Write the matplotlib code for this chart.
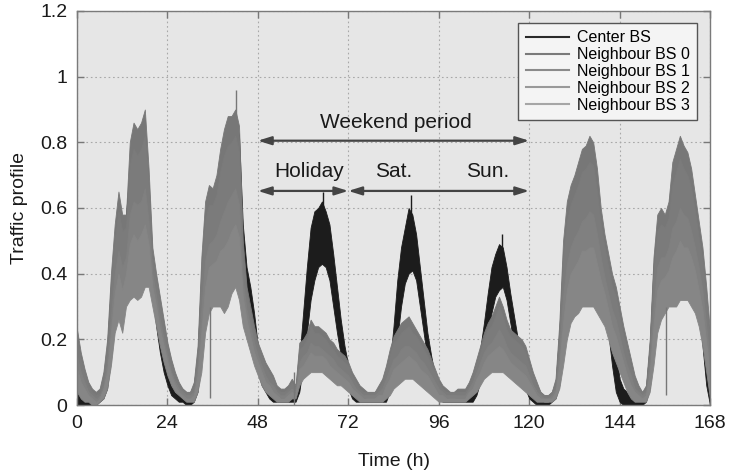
import numpy as np
import matplotlib.pyplot as plt
from matplotlib.lines import Line2D

plt.rcParams['font.family'] = ['Liberation Sans', 'DejaVu Sans']

# hourly samples over one week (0..168 h); each series drawn as a band lo..hi
hours = np.arange(0, 169)

center_hi = [0.06,0.05,0.04,0.03,0.03,0.03,0.04,0.08,0.17,0.36,0.50,0.58,0.55,0.58,0.72,0.78,0.80,0.80,0.82,0.66,0.44,0.34,0.24,0.16,
             0.10,0.07,0.05,0.04,0.03,0.03,0.03,0.06,0.15,0.40,0.58,0.62,0.62,0.66,0.74,0.82,0.85,0.86,0.88,0.82,0.55,0.42,0.36,0.28,
             0.18,0.13,0.09,0.06,0.04,0.03,0.03,0.03,0.03,0.04,0.04,0.14,0.28,0.42,0.54,0.59,0.60,0.62,0.59,0.55,0.46,0.36,0.26,0.18,
             0.12,0.07,0.04,0.03,0.03,0.03,0.03,0.03,0.03,0.03,0.05,0.12,0.24,0.38,0.48,0.54,0.60,0.58,0.52,0.42,0.32,0.22,0.15,0.09,
             0.05,0.03,0.03,0.03,0.03,0.03,0.03,0.03,0.03,0.05,0.10,0.17,0.25,0.34,0.42,0.46,0.49,0.48,0.42,0.34,0.27,0.20,0.14,0.09,
             0.05,0.03,0.03,0.02,0.02,0.02,0.03,0.06,0.22,0.45,0.58,0.63,0.66,0.70,0.74,0.76,0.78,0.75,0.66,0.55,0.46,0.38,0.28,0.16,
             0.08,0.05,0.04,0.03,0.03,0.03,0.03,0.05,0.18,0.42,0.55,0.57,0.56,0.60,0.70,0.75,0.78,0.76,0.74,0.68,0.58,0.48,0.36,0.22,
             0.08]
center_lo = [0.00,0.00,0.00,0.00,0.00,0.00,0.01,0.02,0.05,0.14,0.25,0.32,0.35,0.40,0.48,0.55,0.58,0.60,0.62,0.50,0.34,0.24,0.16,0.10,
             0.06,0.03,0.02,0.01,0.01,0.00,0.00,0.01,0.04,0.14,0.30,0.38,0.40,0.45,0.52,0.64,0.70,0.70,0.68,0.55,0.38,0.32,0.26,0.18,
             0.10,0.06,0.04,0.02,0.01,0.01,0.01,0.01,0.01,0.01,0.01,0.04,0.12,0.22,0.32,0.38,0.42,0.43,0.42,0.38,0.30,0.22,0.15,0.09,
             0.05,0.02,0.01,0.01,0.01,0.01,0.01,0.01,0.01,0.01,0.01,0.04,0.10,0.20,0.30,0.37,0.40,0.41,0.38,0.30,0.22,0.14,0.08,0.04,
             0.02,0.01,0.01,0.01,0.01,0.01,0.01,0.01,0.01,0.01,0.03,0.07,0.12,0.20,0.28,0.33,0.35,0.36,0.32,0.25,0.18,0.12,0.08,0.05,
             0.02,0.01,0.00,0.00,0.00,0.00,0.01,0.02,0.06,0.18,0.30,0.38,0.42,0.46,0.50,0.54,0.56,0.52,0.45,0.38,0.30,0.22,0.12,0.04,
             0.01,0.00,0.00,0.00,0.00,0.00,0.00,0.01,0.05,0.18,0.32,0.38,0.40,0.44,0.50,0.56,0.58,0.56,0.54,0.48,0.40,0.30,0.18,0.06,
             0.00]

n0_hi = [0.23,0.16,0.11,0.07,0.05,0.04,0.05,0.10,0.20,0.40,0.55,0.65,0.58,0.58,0.80,0.86,0.84,0.86,0.90,0.72,0.48,0.40,0.33,0.26,
         0.19,0.14,0.10,0.07,0.05,0.04,0.04,0.07,0.18,0.45,0.62,0.67,0.66,0.70,0.78,0.84,0.88,0.88,0.90,0.85,0.50,0.36,0.30,0.24,
         0.19,0.16,0.13,0.11,0.09,0.06,0.05,0.05,0.06,0.08,0.06,0.19,0.20,0.22,0.26,0.24,0.24,0.23,0.22,0.20,0.19,0.17,0.16,0.15,
         0.13,0.10,0.08,0.06,0.05,0.04,0.04,0.04,0.06,0.08,0.12,0.17,0.21,0.23,0.25,0.26,0.27,0.25,0.23,0.21,0.19,0.17,0.14,0.11,
         0.08,0.06,0.05,0.04,0.04,0.05,0.05,0.05,0.07,0.10,0.14,0.18,0.22,0.25,0.27,0.30,0.33,0.30,0.26,0.23,0.22,0.21,0.20,0.18,
         0.14,0.10,0.07,0.04,0.03,0.03,0.04,0.08,0.25,0.50,0.62,0.67,0.70,0.74,0.78,0.79,0.82,0.80,0.72,0.60,0.52,0.46,0.40,0.36,
         0.30,0.24,0.19,0.14,0.09,0.06,0.04,0.06,0.20,0.45,0.58,0.60,0.58,0.62,0.74,0.78,0.82,0.79,0.77,0.72,0.64,0.56,0.48,0.36,
         0.22]
n0_lo = [0.16,0.11,0.08,0.05,0.03,0.03,0.04,0.07,0.15,0.30,0.43,0.51,0.45,0.48,0.63,0.67,0.66,0.67,0.71,0.59,0.42,0.34,0.28,0.21,
         0.16,0.11,0.08,0.06,0.04,0.03,0.03,0.05,0.13,0.33,0.48,0.53,0.53,0.56,0.61,0.64,0.68,0.69,0.71,0.66,0.41,0.30,0.25,0.20,
         0.16,0.13,0.10,0.08,0.07,0.04,0.04,0.04,0.04,0.06,0.05,0.14,0.16,0.17,0.20,0.19,0.19,0.18,0.17,0.16,0.15,0.13,0.12,0.12,
         0.10,0.08,0.06,0.04,0.04,0.03,0.03,0.03,0.04,0.06,0.09,0.12,0.15,0.17,0.19,0.20,0.20,0.19,0.17,0.16,0.14,0.12,0.10,0.08,
         0.06,0.04,0.04,0.03,0.03,0.04,0.04,0.04,0.05,0.08,0.11,0.14,0.17,0.19,0.21,0.23,0.25,0.23,0.20,0.18,0.17,0.16,0.15,0.13,
         0.10,0.07,0.05,0.03,0.02,0.02,0.03,0.06,0.18,0.37,0.47,0.52,0.55,0.58,0.61,0.62,0.64,0.63,0.57,0.48,0.42,0.37,0.32,0.28,
         0.23,0.18,0.14,0.10,0.06,0.04,0.03,0.04,0.14,0.33,0.45,0.48,0.48,0.51,0.59,0.61,0.65,0.63,0.61,0.57,0.51,0.45,0.38,0.27,
         0.15]

n1_hi = [0.20,0.14,0.10,0.06,0.04,0.03,0.04,0.09,0.18,0.36,0.50,0.59,0.53,0.54,0.73,0.78,0.76,0.78,0.82,0.67,0.45,0.38,0.31,0.24,
         0.18,0.13,0.09,0.06,0.05,0.04,0.04,0.06,0.16,0.40,0.56,0.61,0.61,0.64,0.71,0.76,0.79,0.80,0.82,0.77,0.46,0.34,0.28,0.22,
         0.18,0.15,0.12,0.10,0.08,0.05,0.04,0.04,0.05,0.07,0.05,0.17,0.18,0.20,0.24,0.22,0.22,0.21,0.20,0.18,0.17,0.15,0.14,0.13,
         0.12,0.09,0.07,0.05,0.04,0.04,0.04,0.04,0.05,0.07,0.11,0.15,0.19,0.20,0.22,0.23,0.24,0.22,0.21,0.19,0.17,0.15,0.12,0.10,
         0.07,0.05,0.04,0.04,0.04,0.04,0.04,0.04,0.06,0.09,0.13,0.16,0.20,0.23,0.24,0.27,0.30,0.27,0.23,0.21,0.20,0.19,0.18,0.16,
         0.12,0.09,0.06,0.04,0.03,0.03,0.04,0.07,0.22,0.44,0.56,0.61,0.64,0.67,0.71,0.72,0.74,0.73,0.65,0.55,0.48,0.42,0.36,0.33,
         0.27,0.21,0.17,0.12,0.08,0.05,0.04,0.05,0.18,0.40,0.53,0.55,0.54,0.57,0.67,0.71,0.75,0.72,0.70,0.66,0.59,0.51,0.44,0.32,
         0.19]
n1_lo = [0.13,0.08,0.06,0.04,0.02,0.02,0.03,0.06,0.12,0.25,0.37,0.44,0.38,0.43,0.54,0.57,0.55,0.57,0.60,0.52,0.38,0.31,0.25,0.19,
         0.14,0.10,0.07,0.05,0.03,0.02,0.02,0.04,0.10,0.26,0.40,0.46,0.46,0.48,0.52,0.53,0.56,0.58,0.60,0.56,0.36,0.27,0.22,0.17,
         0.14,0.11,0.08,0.07,0.05,0.03,0.03,0.03,0.03,0.05,0.04,0.12,0.13,0.15,0.17,0.16,0.16,0.16,0.15,0.13,0.12,0.11,0.10,0.09,
         0.08,0.06,0.05,0.03,0.03,0.02,0.02,0.02,0.03,0.04,0.07,0.09,0.12,0.14,0.15,0.16,0.17,0.16,0.14,0.13,0.11,0.10,0.08,0.06,
         0.04,0.03,0.03,0.02,0.02,0.03,0.03,0.03,0.04,0.06,0.09,0.11,0.14,0.16,0.18,0.19,0.20,0.19,0.17,0.15,0.14,0.13,0.12,0.10,
         0.08,0.06,0.04,0.02,0.02,0.02,0.02,0.05,0.14,0.29,0.39,0.44,0.46,0.49,0.52,0.52,0.53,0.53,0.48,0.41,0.37,0.32,0.27,0.23,
         0.19,0.15,0.11,0.07,0.05,0.03,0.02,0.03,0.11,0.27,0.38,0.41,0.42,0.44,0.50,0.52,0.55,0.53,0.52,0.49,0.44,0.38,0.32,0.22,
         0.11]

n2_hi = [0.15,0.10,0.07,0.04,0.03,0.02,0.03,0.06,0.13,0.27,0.40,0.47,0.42,0.45,0.58,0.62,0.61,0.62,0.66,0.56,0.40,0.33,0.26,0.20,
         0.15,0.10,0.07,0.05,0.04,0.03,0.03,0.04,0.12,0.29,0.44,0.49,0.50,0.52,0.56,0.59,0.62,0.64,0.66,0.61,0.38,0.29,0.24,0.19,
         0.15,0.12,0.09,0.07,0.06,0.04,0.03,0.03,0.04,0.05,0.04,0.13,0.15,0.16,0.19,0.18,0.18,0.17,0.16,0.15,0.14,0.12,0.11,0.10,
         0.09,0.07,0.05,0.04,0.03,0.03,0.03,0.03,0.04,0.05,0.08,0.11,0.14,0.15,0.17,0.18,0.18,0.17,0.16,0.14,0.13,0.11,0.09,0.07,
         0.05,0.04,0.03,0.03,0.03,0.03,0.03,0.03,0.05,0.07,0.10,0.13,0.16,0.18,0.19,0.21,0.23,0.21,0.18,0.16,0.15,0.14,0.13,0.12,
         0.09,0.06,0.04,0.03,0.02,0.02,0.03,0.05,0.16,0.33,0.43,0.48,0.51,0.53,0.56,0.57,0.59,0.58,0.52,0.45,0.39,0.34,0.29,0.26,
         0.21,0.16,0.12,0.09,0.05,0.04,0.03,0.04,0.13,0.30,0.42,0.45,0.45,0.48,0.54,0.56,0.60,0.58,0.57,0.53,0.48,0.42,0.35,0.24,
         0.13]
n2_lo = [0.08,0.05,0.03,0.02,0.01,0.01,0.02,0.04,0.08,0.18,0.29,0.34,0.29,0.36,0.42,0.44,0.42,0.44,0.47,0.43,0.34,0.27,0.21,0.16,
         0.11,0.08,0.05,0.04,0.03,0.02,0.02,0.02,0.07,0.17,0.30,0.36,0.37,0.38,0.40,0.39,0.42,0.45,0.47,0.43,0.29,0.23,0.19,0.14,
         0.11,0.08,0.06,0.05,0.03,0.02,0.02,0.02,0.02,0.03,0.03,0.09,0.10,0.12,0.13,0.13,0.13,0.13,0.12,0.10,0.09,0.08,0.08,0.07,
         0.06,0.04,0.03,0.02,0.02,0.02,0.02,0.02,0.02,0.02,0.04,0.06,0.08,0.09,0.11,0.12,0.12,0.11,0.10,0.09,0.08,0.07,0.05,0.04,
         0.02,0.02,0.02,0.02,0.02,0.02,0.02,0.02,0.03,0.04,0.06,0.08,0.11,0.12,0.13,0.14,0.15,0.14,0.12,0.11,0.10,0.09,0.08,0.07,
         0.05,0.04,0.02,0.02,0.01,0.01,0.02,0.03,0.09,0.20,0.28,0.33,0.36,0.37,0.40,0.40,0.40,0.40,0.37,0.33,0.30,0.25,0.21,0.18,
         0.14,0.10,0.07,0.04,0.03,0.02,0.02,0.02,0.07,0.19,0.29,0.33,0.34,0.36,0.39,0.40,0.42,0.41,0.41,0.38,0.35,0.30,0.24,0.15,
         0.06]

n3_hi = [0.11,0.07,0.05,0.03,0.02,0.01,0.02,0.05,0.10,0.22,0.34,0.40,0.35,0.40,0.49,0.52,0.50,0.52,0.55,0.49,0.36,0.30,0.23,0.18,
         0.13,0.09,0.06,0.04,0.03,0.02,0.02,0.03,0.09,0.22,0.36,0.42,0.43,0.44,0.47,0.48,0.50,0.53,0.55,0.51,0.33,0.26,0.21,0.16,
         0.13,0.10,0.07,0.06,0.04,0.03,0.02,0.02,0.03,0.04,0.03,0.11,0.12,0.14,0.16,0.15,0.15,0.15,0.14,0.12,0.11,0.10,0.09,0.08,
         0.07,0.05,0.04,0.03,0.02,0.02,0.02,0.02,0.03,0.03,0.06,0.08,0.11,0.12,0.13,0.14,0.15,0.14,0.13,0.11,0.10,0.09,0.07,0.05,
         0.03,0.03,0.02,0.02,0.02,0.02,0.02,0.02,0.04,0.05,0.08,0.10,0.13,0.15,0.16,0.17,0.18,0.17,0.15,0.13,0.12,0.11,0.10,0.09,
         0.07,0.05,0.03,0.02,0.02,0.02,0.02,0.04,0.12,0.25,0.35,0.40,0.42,0.44,0.47,0.47,0.48,0.48,0.43,0.38,0.34,0.29,0.24,0.21,
         0.17,0.13,0.09,0.06,0.04,0.03,0.02,0.03,0.10,0.24,0.35,0.38,0.39,0.41,0.45,0.47,0.50,0.48,0.48,0.45,0.41,0.35,0.29,0.19,
         0.09]
n3_lo = [0.04,0.02,0.01,0.01,0.00,0.00,0.01,0.02,0.05,0.12,0.22,0.26,0.22,0.30,0.32,0.33,0.32,0.33,0.36,0.36,0.30,0.24,0.18,0.13,
         0.09,0.06,0.04,0.03,0.02,0.01,0.01,0.01,0.04,0.10,0.22,0.28,0.30,0.30,0.30,0.28,0.30,0.34,0.36,0.32,0.24,0.20,0.16,0.12,
         0.09,0.06,0.04,0.03,0.02,0.01,0.01,0.01,0.01,0.02,0.02,0.06,0.08,0.09,0.10,0.10,0.10,0.10,0.09,0.08,0.07,0.06,0.06,0.05,
         0.04,0.03,0.02,0.01,0.01,0.01,0.01,0.01,0.01,0.01,0.02,0.03,0.05,0.06,0.07,0.08,0.08,0.08,0.07,0.06,0.05,0.04,0.03,0.02,
         0.01,0.01,0.01,0.01,0.01,0.01,0.01,0.01,0.02,0.03,0.04,0.06,0.08,0.09,0.10,0.10,0.10,0.10,0.09,0.08,0.07,0.06,0.05,0.04,
         0.03,0.02,0.01,0.01,0.01,0.01,0.01,0.02,0.05,0.12,0.20,0.25,0.27,0.28,0.30,0.30,0.30,0.30,0.28,0.26,0.24,0.20,0.16,0.13,
         0.10,0.07,0.04,0.02,0.01,0.01,0.01,0.01,0.04,0.12,0.22,0.26,0.28,0.30,0.30,0.30,0.32,0.32,0.32,0.30,0.28,0.24,0.18,0.10,
         0.02]

# single-sample spikes / dropouts
nb_spike_h = [35.3, 42.2, 57.6, 156.2]
nb_spike_lo = [0.02, 0.84, 0.00, 0.03]
nb_spike_hi = [0.30, 0.96, 0.10, 0.30]
c_spike_h = [65.3, 88.7, 112.7]
c_spike_lo = [0.55, 0.55, 0.44]
c_spike_hi = [0.65, 0.64, 0.52]

labels = ["Center BS", "Neighbour BS 0", "Neighbour BS 1", "Neighbour BS 2", "Neighbour BS 3"]
colors = ["#1c1c1c", "#777777", "#7b7b7b", "#808080", "#868686"]
legend_colors = ["#2a2a2a", "#7a7a7a", "#8a8a8a", "#999999", "#a6a6a6"]
bands = [(center_lo, center_hi), (n0_lo, n0_hi), (n1_lo, n1_hi), (n2_lo, n2_hi), (n3_lo, n3_hi)]

fig = plt.figure(figsize=(7.3, 4.75), dpi=100)
ax = fig.add_axes([77 / 730, 70 / 475, 633 / 730, 394 / 475])
ax.set_facecolor("#e6e6e6")

# center first, neighbours on top (darkest neighbour last)
draw_order = [0, 4, 3, 2, 1]
for i in draw_order:
    lo, hi = bands[i]
    ax.fill_between(hours, lo, hi, color=colors[i], lw=0.6, edgecolor=colors[i], zorder=2 + 0.1 * i)

ax.vlines(c_spike_h, c_spike_lo, c_spike_hi, color=colors[0], lw=1.0, zorder=2)
ax.vlines(nb_spike_h, nb_spike_lo, nb_spike_hi, color=colors[1], lw=1.0, zorder=3)

ax.set_xlim(0, 168)
ax.set_ylim(0, 1.2)
ax.set_xticks(np.arange(0, 169, 24))
ax.set_yticks([0, 0.2, 0.4, 0.6, 0.8, 1.0, 1.2])
ax.set_yticklabels(["0", "0.2", "0.4", "0.6", "0.8", "1", "1.2"])
ax.tick_params(direction="in", top=True, right=True, length=5, width=1, color="#777777",
               labelsize=14, pad=7, labelcolor="#1a1a1a")
for s in ax.spines.values():
    s.set_color("#7a7a7a")
    s.set_linewidth(1.0)
ax.grid(True, color="#a8a8a8", linestyle=(0, (1.5, 2.5)), lw=0.8, zorder=1)
ax.set_axisbelow(True)

ax.set_xlabel("Time (h)", fontsize=14, labelpad=15, color="#1a1a1a")
ax.set_ylabel("Traffic profile", fontsize=14, labelpad=9, color="#1a1a1a")

# period annotations
arrow_kw = dict(arrowstyle="<|-|>,head_length=0.8,head_width=0.25", color="#444444", lw=1.6,
                shrinkA=0, shrinkB=0)
ax.annotate("", xy=(48, 0.805), xytext=(120, 0.805), arrowprops=arrow_kw, zorder=5)
ax.annotate("", xy=(48, 0.652), xytext=(72, 0.652), arrowprops=arrow_kw, zorder=5)
ax.annotate("", xy=(72, 0.652), xytext=(120, 0.652), arrowprops=arrow_kw, zorder=5)
ax.text(84.6, 0.86, "Weekend period", fontsize=15, ha="center", va="center", color="#1a1a1a")
ax.text(61.5, 0.71, "Holiday", fontsize=15, ha="center", va="center", color="#1a1a1a")
ax.text(84, 0.71, "Sat.", fontsize=15, ha="center", va="center", color="#1a1a1a")
ax.text(109, 0.71, "Sun.", fontsize=15, ha="center", va="center", color="#1a1a1a")

handles = [Line2D([], [], color=c, lw=1.5) for c in legend_colors]
leg = ax.legend(handles, labels, loc="upper right", bbox_to_anchor=(0.979, 0.9695),
                fontsize=11.5, frameon=True, fancybox=False, borderaxespad=0,
                handlelength=2.7, handletextpad=0.5, labelspacing=0.12, borderpad=0.45)
leg.get_frame().set_facecolor("#f4f4f4")
leg.get_frame().set_edgecolor("#555555")
leg.get_frame().set_linewidth(1.0)
leg.get_frame().set_alpha(1)
leg.set_zorder(10)

fig.savefig("out.png", dpi=100)
